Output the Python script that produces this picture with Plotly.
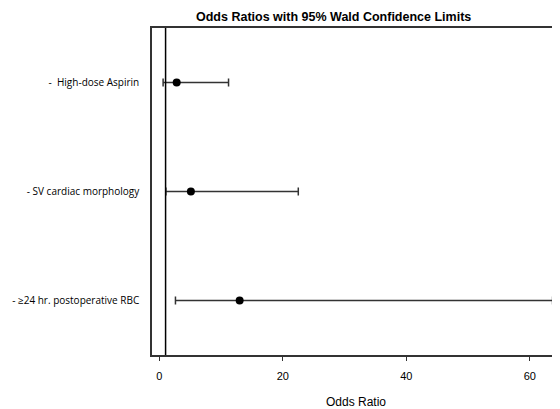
import plotly.graph_objects as go

categories = ["-  High-dose Aspirin", "- SV cardiac morphology", "- \u226524 hr. postoperative RBC"]
odds_ratio = [2.8, 5.1, 13.0]
lower_ci = [0.6, 1.05, 2.6]
upper_ci = [11.2, 22.5, 63.7]
reference_or = 1
x_ticks = [0, 20, 40, 60]

err_plus = [u - o for u, o in zip(upper_ci, odds_ratio)]
err_minus = [o - l for o, l in zip(odds_ratio, lower_ci)]

# the page body has an 8px default margin; compensate so the plot lands where the reference is
fig = go.Figure()
fig.add_trace(go.Scatter(
    x=odds_ratio, y=categories, mode="markers",
    marker=dict(color="black", size=8),
    error_x=dict(type="data", array=err_plus, arrayminus=err_minus,
                 color="#333333", thickness=1.5, width=4),
    showlegend=False,
))
fig.add_shape(type="line", xref="x", yref="paper", x0=reference_or, x1=reference_or,
              y0=0, y1=1, line=dict(color="black", width=1.5))

fig.add_annotation(text="<b>Odds Ratios with 95% Wald Confidence Limits</b>",
                   xref="paper", yref="paper", x=(333 - 152) / 408, y=1,
                   yanchor="bottom", yshift=3, showarrow=False, borderpad=0,
                   font=dict(family="Liberation Sans, Arial", size=12.5, color="black"))

fig.update_layout(
    width=552, height=401,
    margin=dict(l=144, r=0, t=20, b=54),
    plot_bgcolor="white", paper_bgcolor="white",
    font=dict(family="Liberation Sans, Arial", color="black"),
)
fig.update_xaxes(range=[-1.2, 64.9], tickvals=x_ticks, showgrid=False, zeroline=False,
                 showline=True, linecolor="#333333", linewidth=1.5, mirror=True,
                 ticks="outside", ticklen=4, tickcolor="#333333",
                 tickfont=dict(size=11), ticklabelstandoff=6,
                 title=dict(text="Odds Ratio", font=dict(size=12), standoff=18))
fig.update_yaxes(categoryorder="array", categoryarray=categories, autorange=False,
                 range=[2.5, -0.5], showgrid=False, zeroline=False,
                 showline=True, linecolor="#333333", linewidth=1.5,
                 ticks="", ticklabelstandoff=9,
                 tickfont=dict(family="Open Sans, Noto Sans", size=10))

fig.write_html("out.html")
